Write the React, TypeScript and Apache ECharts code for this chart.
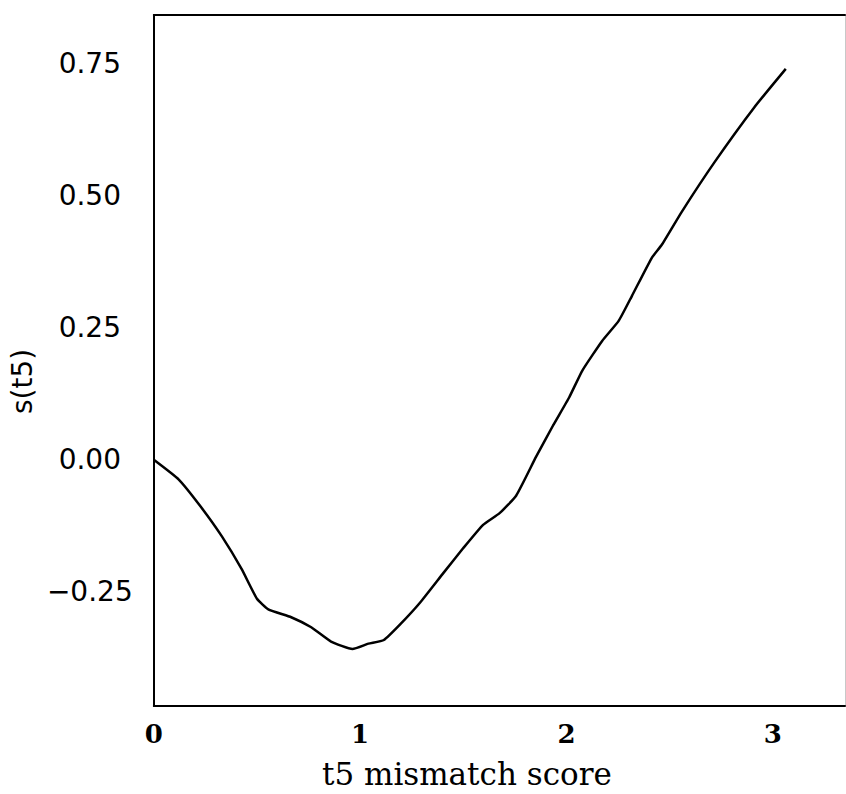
import React, { useEffect, useRef } from "react";
import * as echarts from "echarts";

// Smoothed term s(t5) against the t5 mismatch score
const scoreX: number[] = [
  0, 0.12, 0.226, 0.33, 0.426, 0.5, 0.555, 0.666, 0.763, 0.859, 0.963, 1.04, 1.115, 1.195,
  1.291, 1.404, 1.5, 1.596, 1.676, 1.756, 1.853, 1.935, 2.013, 2.077, 2.173, 2.253, 2.317,
  2.413, 2.462, 2.558, 2.717, 2.91, 3.063,
];
const smoothY: number[] = [
  0, -0.037, -0.088, -0.145, -0.207, -0.263, -0.283, -0.298, -0.317, -0.344, -0.358, -0.348,
  -0.341, -0.311, -0.27, -0.214, -0.167, -0.123, -0.101, -0.068, 0.006, 0.065, 0.118, 0.169,
  0.225, 0.263, 0.31, 0.382, 0.407, 0.469, 0.563, 0.667, 0.74,
];
const xTicks: number[] = [0, 1, 2, 3];
const yTicks: number[] = [-0.25, 0, 0.25, 0.5, 0.75];

const xName = "t5 mismatch score";
const yName = "s(t5)";

export default function App() {
  const ref = useRef<HTMLDivElement>(null);

  useEffect(() => {
    document.body.style.margin = "0";
    if (!ref.current) return;
    const chart = echarts.init(ref.current, undefined, { renderer: "svg" });
    const points = scoreX.map((x, i) => [x, smoothY[i]]);
    chart.setOption({
      animation: false,
      backgroundColor: "#ffffff",
      grid: { left: 148, top: 15, right: 1, bottom: 83, containLabel: false },
      xAxis: [
        {
          type: "value",
          min: 0,
          max: 3.35,
          position: "bottom",
          axisLine: { show: true, onZero: false, lineStyle: { color: "#000", width: 2 } },
          axisTick: { show: false },
          splitLine: { show: false },
          axisLabel: {
            customValues: xTicks,
            margin: 15,
            color: "#000",
            fontFamily: "DejaVu Serif",
            fontWeight: "bold",
            fontSize: 26,
            formatter: (v: number) => String(v),
          },
          name: xName,
          nameLocation: "middle",
          nameGap: 52,
          nameTextStyle: {
            color: "#000",
            fontFamily: "DejaVu Serif",
            fontSize: 31,
            padding: [0, 65, 0, 0],
          },
        },
        {
          type: "value",
          min: 0,
          max: 3.35,
          position: "top",
          axisLine: { show: true, onZero: false, lineStyle: { color: "#000", width: 2 } },
          axisTick: { show: false },
          axisLabel: { show: false },
          splitLine: { show: false },
        },
      ],
      yAxis: [
        {
          type: "value",
          min: -0.466,
          max: 0.842,
          position: "left",
          axisLine: { show: true, onZero: false, lineStyle: { color: "#000", width: 2 } },
          axisTick: { show: false },
          splitLine: { show: false },
          axisLabel: {
            customValues: yTicks,
            margin: 64,
            align: "center",
            color: "#000",
            fontFamily: "DejaVu Sans",
            fontSize: 28,
            formatter: (v: number) => v.toFixed(2).replace("-", "\u2212"),
          },
          name: yName,
          nameLocation: "middle",
          nameRotate: 90,
          nameGap: 104,
          nameTextStyle: {
            color: "#000",
            fontFamily: "DejaVu Sans",
            fontSize: 28,
            padding: [0, 42, 0, 0],
          },
        },
        {
          type: "value",
          min: -0.466,
          max: 0.842,
          position: "right",
          axisLine: { show: true, onZero: false, lineStyle: { color: "#c8c8c8", width: 1 } },
          axisTick: { show: false },
          axisLabel: { show: false },
          splitLine: { show: false },
        },
      ],
      series: [
        {
          type: "line",
          data: points,
          xAxisIndex: 0,
          yAxisIndex: 0,
          showSymbol: false,
          smooth: 0.15,
          lineStyle: { color: "#000", width: 2.5 },
        },
      ],
    });
    return () => chart.dispose();
  }, []);

  return <div ref={ref} style={{ width: 846, height: 794 }} />;
}
